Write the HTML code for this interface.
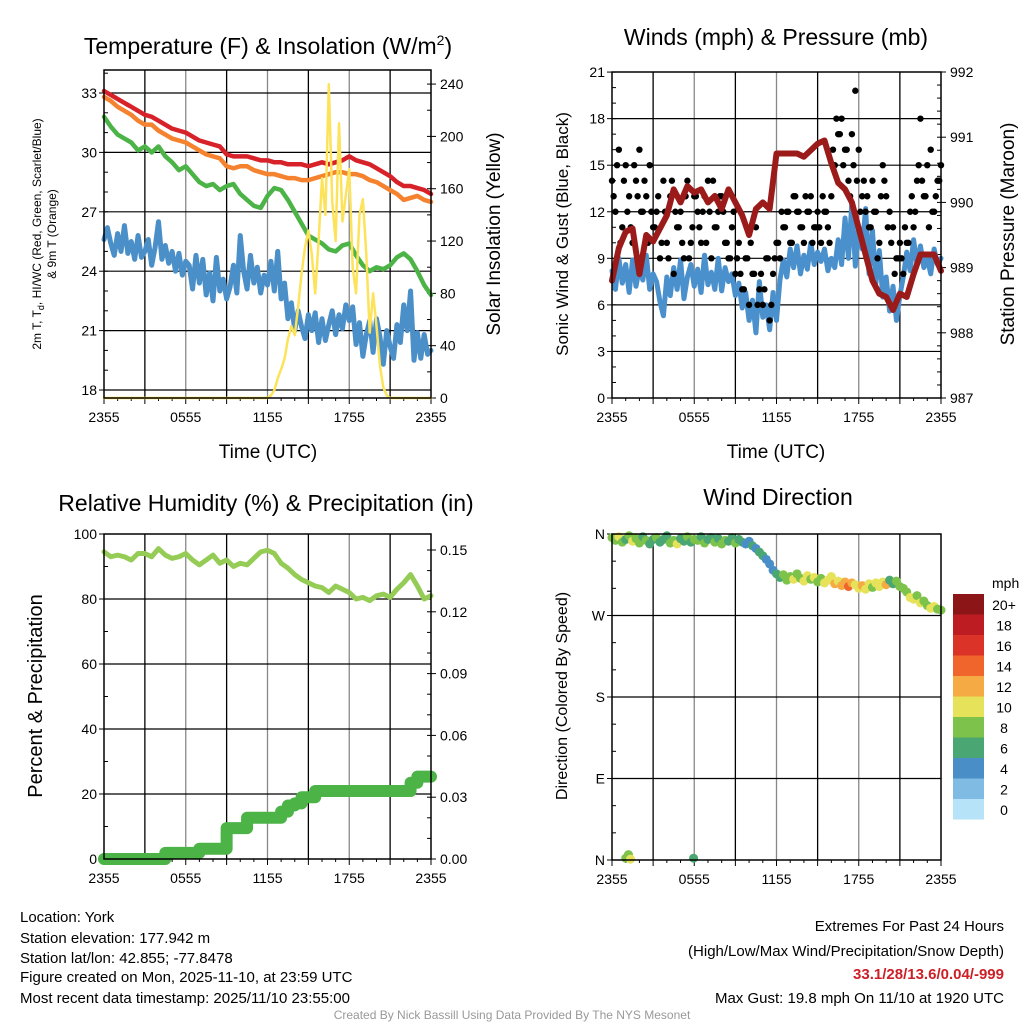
<!DOCTYPE html>
<html><head><meta charset="utf-8"><style>
html,body{margin:0;padding:0;background:#fff}
svg{display:block;font-family:"Liberation Sans",Arial,sans-serif}
</style></head><body>
<svg id="c" width="1024" height="1024" viewBox="0 0 1024 1024" xmlns="http://www.w3.org/2000/svg">
<g id="layer"></g>
<text x="268" y="54" font-size="23" text-anchor="middle">Temperature (F) &amp; Insolation (W/m<tspan dy="-9" font-size="14">2</tspan><tspan dy="9">)</tspan></text>
<text x="776" y="45" font-size="23" text-anchor="middle">Winds (mph) &amp; Pressure (mb)</text>
<text x="266" y="511" font-size="23" text-anchor="middle">Relative Humidity (%) &amp; Precipitation (in)</text>
<text x="778" y="505" font-size="23" text-anchor="middle">Wind Direction</text>
<text x="268" y="458" font-size="19" text-anchor="middle">Time (UTC)</text>
<text x="776" y="458" font-size="19" text-anchor="middle">Time (UTC)</text>
<text transform="translate(41,234) rotate(-90)" font-size="12" text-anchor="middle">2m T, T<tspan dy="3" font-size="9">d</tspan><tspan dy="-3">, HI/WC (Red, Green, Scarlet/Blue)</tspan></text>
<text transform="translate(56,234) rotate(-90)" font-size="12" text-anchor="middle">&amp; 9m T (Orange)</text>
<text transform="translate(500,234) rotate(-90)" font-size="19" text-anchor="middle">Solar Insolation (Yellow)</text>
<text transform="translate(568,234) rotate(-90)" font-size="17" text-anchor="middle">Sonic Wind &amp; Gust (Blue, Black)</text>
<text transform="translate(1014,234) rotate(-90)" font-size="19" text-anchor="middle">Station Pressure (Maroon)</text>
<text transform="translate(42,696) rotate(-90)" font-size="20" text-anchor="middle">Percent &amp; Precipitation</text>
<text transform="translate(567,696) rotate(-90)" font-size="16" text-anchor="middle">Direction (Colored By Speed)</text>
<text x="992" y="588" font-size="14">mph</text>
<g font-size="15">
<text x="20" y="922">Location: York</text>
<text x="20" y="943">Station elevation: 177.942 m</text>
<text x="20" y="963">Station lat/lon: 42.855; -77.8478</text>
<text x="20" y="982">Figure created on Mon, 2025-11-10, at 23:59 UTC</text>
<text x="20" y="1003">Most recent data timestamp: 2025/11/10 23:55:00</text>
</g>
<g font-size="15" text-anchor="end">
<text x="1004" y="931">Extremes For Past 24 Hours</text>
<text x="1004" y="956">(High/Low/Max Wind/Precipitation/Snow Depth)</text>
<text x="1004" y="979" fill="#cc1f26" font-weight="bold">33.1/28/13.6/0.04/-999</text>
<text x="1004" y="1003">Max Gust: 19.8 mph On 11/10 at 1920 UTC</text>
</g>
<text x="512" y="1019" font-size="12" fill="#999" text-anchor="middle">Created By Nick Bassill Using Data Provided By The NYS Mesonet</text>
</svg>
<script>
const xTickLabels = ["2355","0555","1155","1755","2355"];
const tempRed = [33.1,32.9,32.7,32.5,32.3,32.1,31.9,31.8,31.6,31.4,31.2,31.1,31.0,30.8,30.6,30.5,30.4,30.3,29.9,29.8,29.8,29.8,29.7,29.6,29.6,29.5,29.5,29.4,29.4,29.4,29.3,29.4,29.5,29.4,29.5,29.6,29.8,29.6,29.5,29.4,29.2,29.0,28.8,28.5,28.3,28.3,28.2,28.1,27.9];
const tempOrange = [32.8,32.6,32.3,32.1,31.9,31.6,31.4,31.4,31.1,30.9,30.7,30.6,30.5,30.3,30.1,29.9,29.8,29.7,29.3,29.2,29.3,29.3,29.1,29.0,28.9,28.9,28.8,28.7,28.7,28.6,28.6,28.7,28.8,28.9,29.0,29.0,28.9,28.9,28.8,28.6,28.5,28.3,28.1,27.9,27.6,27.7,27.8,27.6,27.5];
const tempGreen = [31.8,31.3,30.9,30.7,30.5,30.1,30.3,30.0,30.3,29.8,29.5,29.1,29.3,28.9,28.5,28.3,28.4,28.1,28.3,28.4,27.9,27.6,27.3,27.2,27.8,28.2,28.1,27.6,27.0,26.4,25.8,25.6,25.4,25.1,25.0,25.3,25.4,24.8,24.3,24.0,24.2,24.1,24.3,24.7,24.9,24.6,24.0,23.3,22.8];
const tempBlue = [25.6,26.2,25.4,24.8,25.9,25.0,26.3,24.9,25.5,24.6,25.8,24.7,25.0,
 25.6,24.3,25.2,26.5,24.6,25.3,24.4,25.0,24.0,24.9,23.8,24.5,
 24.3,23.1,24.8,23.4,24.6,22.8,23.9,22.5,24.7,23.0,23.6,22.6,
 23.2,24.3,22.9,25.8,24.0,23.1,24.8,23.4,24.2,22.9,23.8,23.3,
 24.5,23.0,25.0,22.6,23.4,21.6,22.4,21.0,22.0,21.2,20.6,21.8,
 21.0,21.9,20.4,21.6,20.5,21.3,22.0,20.8,21.8,21.1,22.3,21.5,
 22.2,20.3,21.4,19.7,20.8,21.5,19.9,21.6,20.7,19.3,21.0,20.2,
 19.6,21.3,20.4,22.3,21.0,23.0,19.5,20.9,19.6,20.8,19.8,20.0];
const solarHours = [0,12,12.25,12.5,12.75,13,13.25,13.5,13.75,14,14.25,14.5,14.75,15,15.25,15.5,15.75,16,16.25,16.5,16.75,17,17.25,17.5,17.75,18,18.25,18.5,18.75,19,19.25,19.5,19.75,20,20.25,20.5,20.75,21,24];
const solar = [0,0,2,6,15,22,30,45,55,48,70,95,115,128,110,80,120,168,140,240,150,120,210,135,155,175,100,80,140,152,110,50,80,55,25,8,2,0,0];
const tempTicks = [18,21,24,27,30,33];
const solarTicks = [0,40,80,120,160,200,240];
const sonic = [8.2,7.0,9.0,7.4,8.6,6.8,8.9,7.2,8.4,7.6,9.2,7.0,8.0,
 7.5,6.2,5.3,7.8,6.6,8.4,7.0,8.9,6.4,7.8,8.6,7.2,
 8.3,6.8,9.2,7.3,8.1,7.0,9.0,6.9,8.4,7.5,8.0,6.6,
 7.4,5.8,6.8,5.0,6.3,4.2,7.5,5.2,6.0,4.4,6.8,5.0,
 7.6,8.9,7.8,9.6,8.4,9.8,8.0,9.2,8.3,10.0,8.6,9.4,
 8.8,9.6,8.2,9.0,8.4,10.2,8.6,11.6,9.0,12.6,8.5,11.0,
 9.6,12.2,8.0,10.8,7.4,9.5,6.5,7.8,5.6,7.2,5.0,6.6,
 7.8,9.4,8.2,10.2,8.6,9.8,8.4,9.0,8.0,9.6,8.6,9.0];
const gusts = [14,12,16,11,15,13,10,14,16,12,13,15,11, 12,9,14,10,13,8,11,12,9,14,10,13, 12,10,13,14,9,11,12,13,10,9,11,8, 10,7,9,6,8,11,7,6,9,5,8,10, 9,11,12,10,13,12,11,10,12,13,11,12, 10,12,11,13,15,17,18,16,14,17,19.8,16, 13,12,11,14,12,10,15,13,12,11,9,10, 8,10,12,11,14,18,13,15,16,12,14,15];
const gusts2 = [13,15,10,14,12,11,15,13,12,14,10,12, 11,13,10,12,9,14,12,11,10,13,9,11, 13,11,12,10,12,14,11,13,12,10,9,12, 9,8,7,9,10,8,6,8,7,9,6,9, 10,12,11,12,10,13,12,11,13,12,10,11, 11,13,12,10,16,18,17,15,16,13,15,14, 12,14,13,11,12,9,13,14,11,10,8,9, 9,11,10,13,12,15,14,13,11,12,13,14];
const pressure = [988.8,989.3,989.55,989.6,988.9,989.5,989.4,989.6,989.8,990.2,990.0,990.25,990.15,990.2,990.0,990.1,989.9,990.2,990.0,989.8,989.5,989.9,990.0,989.9,990.75,990.75,990.75,990.75,990.7,990.8,990.9,990.95,990.6,990.3,990.2,990.0,989.6,989.2,988.8,988.6,988.55,988.35,988.6,988.55,988.9,989.2,989.2,989.2,988.95];
const windTicks = [0,3,6,9,12,15,18,21];
const pressTicks = [987,988,989,990,991,992];
const rh = [94.5,93,93.5,93,92,94,94,93,95.5,93.5,92.5,93,94,92,90.5,92,93.5,91,92,90,91,90.5,92.5,94.5,95,94,91,89.5,87.5,86,85,84,83.5,82,84,83,82,80,80.5,79.5,81,81.5,80.5,83,85,87.5,84,80,81];
const precip = [0,0,0,0,0,0,0,0,0,0.003,0.003,0.003,0.003,0.003,0.005,0.005,0.005,0.005,0.015,0.015,0.015,0.02,0.02,0.02,0.02,0.02,0.023,0.026,0.027,0.030,0.030,0.033,0.033,0.033,0.033,0.033,0.033,0.033,0.033,0.033,0.033,0.033,0.033,0.033,0.033,0.037,0.040,0.040,0.040];
const rhTicks = [0,20,40,60,80,100];
const precipTicks = [0,0.03,0.06,0.09,0.12,0.15];
const precipTickLabels = ["0.00","0.03","0.06","0.09","0.12","0.15"];
const windDir = [356,353,357,351,354,358,352,355,350,357,353,349,354,
 356,351,354,358,350,353,349,355,352,357,351,354,
 353,357,350,354,356,351,355,349,353,352,356,350,
 354,351,349,352,347,344,340,336,332,327,320,316,
 312,315,309,313,310,316,311,308,314,310,312,307,
 311,306,309,313,305,308,303,307,302,306,304,300,
 303,299,305,301,306,302,307,304,309,305,308,302,
 300,296,290,288,292,284,286,281,278,280,277,276];
const windSpd = [8,9,10,8,7,9,10,8,9,7,8,6,7,
 8,7,6,7,8,9,10,7,6,8,7,9,
 8,6,9,7,7,8,6,9,8,6,7,8,
 7,6,5,4,6,5,7,6,5,4,5,6,
 7,8,9,9,10,8,9,10,11,9,10,8,
 9,10,11,10,12,11,13,12,14,12,11,10,
 12,10,11,9,10,11,10,12,7,6,8,9,
 8,9,10,11,9,10,8,9,10,11,8,9];
const extraHours = [1.0,1.2,1.35,5.95];
const extraDir = [2,6,1,2];
const extraSpd = [8,8,10,6];
const dirTicks = [0,90,180,270,360];
const dirLabels = ["N","E","S","W","N"];
const cbLabels = ["0","2","4","6","8","10","12","14","16","18","20+"];
const cbColors = ["#b6e3f8","#80bbe4","#4a8ec8","#4aa673","#7dc24a","#e6e25a","#f6aa43","#ef652b","#dc3328","#bd1c23","#8c1518"];

const NS="http://www.w3.org/2000/svg";
const layer=document.getElementById('layer');
function mk(tag,attrs,parent){const e=document.createElementNS(NS,tag);for(const k in attrs)e.setAttribute(k,attrs[k]);(parent||layer).appendChild(e);return e;}
function hours(arr){return arr.map((v,i)=>i*24/(arr.length-1));}
function hoursOffset(arr,o){return arr.map((v,i)=>Math.min(24,i*24/arr.length+o));}

function panel(P,name){
  const xs=h=>P.x0+(h/24)*(P.x1-P.x0);
  const g=mk('g',{});
  
  
  for(let h=3;h<24;h+=3){mk('line',{x1:xs(h),x2:xs(h),y1:P.y0,y2:P.y1,stroke:h%6===0?'#888':'#000','stroke-width':1.3},g);}
  for(let h=0;h<=24;h+=1){const L=(h%3===0)?6:3;mk('line',{x1:xs(h),x2:xs(h),y1:P.y1,y2:P.y1+L,stroke:'#000','stroke-width':1},g);}
  xTickLabels.forEach((t,i)=>{
    const tx=mk('text',{x:xs(i*6),y:P.y1+24,'font-size':14,'text-anchor':'middle'});
    tx.textContent=t;
    
    
  });
  return xs;
}
function frame(P){mk('rect',{x:P.x0,y:P.y0,width:P.x1-P.x0,height:P.y1-P.y0,fill:'none',stroke:'#000','stroke-width':1.5});}
function hgrid(P,ys,ticks,labels,side,minor){
  ticks.forEach((v,i)=>{
    const y=ys(v);
    if(side==='left'&&y>P.y0+2&&y<P.y1-2) mk('line',{x1:P.x0,x2:P.x1,y1:y,y2:y,stroke:'#000','stroke-width':1.2});
    const x=side==='left'?P.x0-7:P.x1+9;
    mk('line',{x1:side==='left'?P.x0-5:P.x1,x2:side==='left'?P.x0:P.x1+5,y1:y,y2:y,stroke:'#000'});
    const t=mk('text',{x:x,y:y+5,'font-size':14,'text-anchor':side==='left'?'end':'start'});
    t.textContent=labels?labels[i]:String(v);
    
    
  });
  if(minor){minor.forEach(v=>{const y=ys(v);if(y>=P.y0&&y<=P.y1)mk('line',{x1:side==='left'?P.x0:P.x1-4,x2:side==='left'?P.x0+4:P.x1,y1:y,y2:y,stroke:'#000'});});}
}
function path(xsArr,vals,xs,ys,color,w,name,step){
  let d='';
  vals.forEach((v,i)=>{const x=xs(xsArr[i]),y=ys(v);
    if(i===0)d+='M'+x+' '+y;
    else if(step){d+=' H'+x+' V'+y;} else d+=' L'+x+' '+y;});
  const p=mk('path',{d:d,fill:'none',stroke:color,'stroke-width':w,'stroke-linejoin':'round','stroke-linecap':'round'});
  
  
  return p;
}
function range(a,b,s){const r=[];for(let v=a;v<=b+1e-9;v+=s)r.push(v);return r;}

// Panel 1
const P1={x0:104,x1:431,y0:70,y1:398};
const xs1=panel(P1,'temp');
const yT=v=>390-(v-18)*19.8, yS=v=>398-v*1.308;
hgrid(P1,yT,tempTicks,null,'left',range(18,34,1));
hgrid(P1,yS,solarTicks,null,'right',range(0,240,20));
path(hours(tempBlue),tempBlue,xs1,yT,'#4a8fc8',5,'dewpoint-line');
path(hours(tempGreen),tempGreen,xs1,yT,'#4cb447',4.5,'heat-index-line');
path(hours(tempOrange),tempOrange,xs1,yT,'#f5822f',4.5,'9m-temperature-line');
path(hours(tempRed),tempRed,xs1,yT,'#d7222a',4.5,'2m-temperature-line');
path(solarHours,solar,xs1,yS,'#fce35a',2.5,'solar-insolation-line');
frame(P1);

// Panel 2
const P2={x0:612,x1:941,y0:72,y1:398};
const xs2=panel(P2,'winds');
const yW=v=>398-v*15.52, yP=v=>398-(v-987)*65.2;
hgrid(P2,yW,windTicks,null,'left',range(0,21,1));
hgrid(P2,yP,pressTicks,null,'right',range(987,992,0.2));
path(hours(sonic),sonic,xs2,yW,'#4a90cc',5,'sonic-wind-line');
const gh=hours(gusts);
gusts.forEach((v,i)=>{
  const c=mk('circle',{cx:xs2(gh[i]),cy:yW(v),r:3.2,fill:'#000'});
  
  
});
const gh2=hoursOffset(gusts2,0.12);
gusts2.forEach((v,i)=>{
  const c=mk('circle',{cx:xs2(gh2[i]),cy:yW(v),r:3.2,fill:'#000'});
  
  
});
path(hours(pressure),pressure,xs2,yP,'#9b1b1b',6,'pressure-line');
frame(P2);

// Panel 3
const P3={x0:104,x1:431,y0:534,y1:859};
const xs3=panel(P3,'humidity');
const yR=v=>859-v*3.25, yPr=v=>859-v*2060;
hgrid(P3,yR,rhTicks,null,'left',range(0,100,10));
hgrid(P3,yPr,precipTicks,precipTickLabels,'right',range(0,0.15,0.01));
path(hours(precip),precip,xs3,yPr,'#4cb447',12,'precipitation-line',true);
path(hours(rh),rh,xs3,yR,'#95cc55',5,'relative-humidity-line');
frame(P3);

// Panel 4
const P4={x0:612,x1:941,y0:534,y1:860};
const xs4=panel(P4,'direction');
const yD=v=>860-v/360*326;
hgrid(P4,yD,dirTicks,dirLabels,'left',range(0,360,30));
function spdColor(s){return cbColors[Math.min(10,Math.floor(s/2))];}
const dh=hours(windDir);
windDir.forEach((d,i)=>{
  const c=mk('circle',{cx:xs4(dh[i]),cy:yD(d),r:4.5,fill:spdColor(windSpd[i])});
  
  
});
extraDir.forEach((d,i)=>{
  const c=mk('circle',{cx:xs4(extraHours[i]),cy:yD(d),r:4.5,fill:spdColor(extraSpd[i])});
  
  
});
frame(P4);
cbLabels.forEach((l,i)=>{
  const y=799-i*20.5;
  const r=mk('rect',{x:953,y:y,width:31,height:20.5,fill:cbColors[i]});
  
  
  const t=mk('text',{x:1004,y:y+16,'font-size':14,'text-anchor':'middle'});
  t.textContent=l;
  
  
});
</script>
</body></html>
